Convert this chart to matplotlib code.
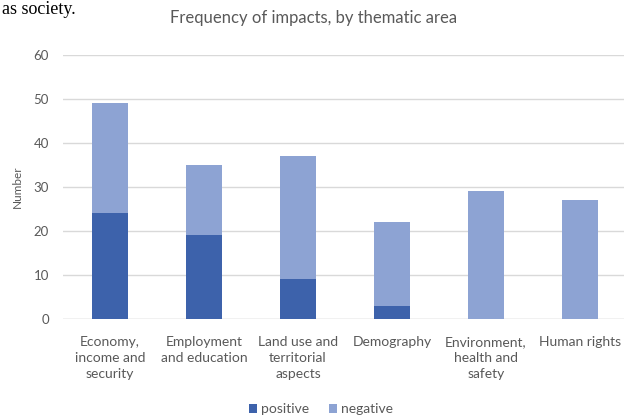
import matplotlib
matplotlib.use("Agg")
import matplotlib.pyplot as plt
import numpy as np

categories = ["Economy,\nincome and\nsecurity", "Employment\nand education",
              "Land use and\nterritorial\naspects", "Demography",
              "Environment,\nhealth and\nsafety", "Human rights"]
positive = [24, 19, 9, 3, 0, 0]
negative = [25, 16, 28, 19, 29, 27]
yticks = [0, 10, 20, 30, 40, 50, 60]

plt.rcParams['font.family'] = ['Lato', 'DejaVu Sans']

W, H = 624, 418
fig = plt.figure(figsize=(W/100, H/100), dpi=100)
fig.patch.set_facecolor('white')

left, right = 63, 625
y0, y60 = 319, 55
ax = fig.add_axes([left/W, 1 - y0/H, (right-left)/W, (y0-y60)/H])

x = np.arange(len(categories))
dark = '#3d62ab'
light = '#8da3d3'
ax.bar(x, positive, width=0.39, color=dark, label='positive', zorder=3)
ax.bar(x, negative, width=0.39, bottom=positive, color=light, label='negative', zorder=3)

ax.set_xlim(-0.5, 5.48)
ax.set_ylim(0, 60)
ax.set_yticks(yticks)
ax.yaxis.grid(True, color='#d9d9d9', linewidth=1, zorder=0)
for s in ax.spines.values():
    s.set_visible(False)
ax.axhline(0, color='#d9d9d9', linewidth=1, zorder=1)
ax.tick_params(axis='both', length=0, colors='#595959')
ax.tick_params(axis='y', pad=10, labelsize=9.5)
ax.set_xticks(x)
ax.set_xticklabels(categories, fontsize=10, color='#595959', linespacing=1.4)
ax.tick_params(axis='x', pad=12)
ax.set_ylabel('Number', fontsize=8.5, color='#595959', labelpad=8)

fig.text(314/W, 1 - 18/H, 'Frequency of impacts, by thematic area',
         ha='center', va='center', fontsize=12, color='#595959')

fig.text(2/W, 1 - 9/H, 'as society.', ha='left', va='center', fontsize=13,
         color='black', family=['Liberation Serif'])

leg = fig.legend(loc='center', bbox_to_anchor=(321/W, 1 - 409/H), ncol=2,
                 frameon=False, fontsize=10, handlelength=0.6, handleheight=0.6,
                 handletextpad=0.3, columnspacing=1.4)
for t in leg.get_texts():
    t.set_color('#595959')

fig.savefig('out.png', dpi=100, facecolor='white')
